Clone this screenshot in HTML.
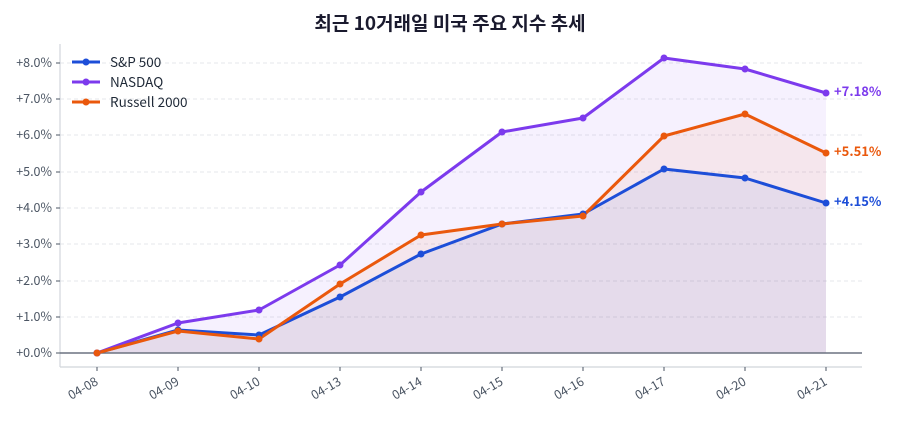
<!DOCTYPE html>
<html><head><meta charset="utf-8"><style>
body{margin:0;background:#fff}
svg text{font-family:"Noto Sans CJK KR","Liberation Sans",sans-serif}
</style></head><body>
<svg width="900" height="420" viewBox="0 0 900 420" xmlns="http://www.w3.org/2000/svg">
<text x="450" y="30" text-anchor="middle" font-size="19" font-weight="bold" fill="#1a1a2e">최근 10거래일 미국 주요 지수 추세</text>
<g stroke="#e5e7eb" stroke-dasharray="4,3" stroke-width="1">
<line x1="60" x2="862" y1="317" y2="317"/><line x1="60" x2="862" y1="281" y2="281"/>
<line x1="60" x2="862" y1="244" y2="244"/><line x1="60" x2="862" y1="208" y2="208"/>
<line x1="60" x2="862" y1="172" y2="172"/><line x1="60" x2="862" y1="135" y2="135"/>
<line x1="60" x2="862" y1="99" y2="99"/><line x1="60" x2="862" y1="63" y2="63"/>
</g>
<g stroke="#d1d5db" stroke-width="1.2" fill="none">
<line x1="60" y1="44" x2="60" y2="367"/><line x1="60" y1="367" x2="862" y2="367"/>
</g>
<g font-size="12.5" fill="#4b5563" text-anchor="end">
<text x="52" y="357">+0.0%</text><text x="52" y="321">+1.0%</text><text x="52" y="285">+2.0%</text>
<text x="52" y="248">+3.0%</text><text x="52" y="212">+4.0%</text><text x="52" y="176">+5.0%</text>
<text x="52" y="139">+6.0%</text><text x="52" y="103">+7.0%</text><text x="52" y="67">+8.0%</text>
</g>
<g stroke="#4b5563"><line x1="56" x2="60" y1="353" y2="353"/><line x1="56" x2="60" y1="317" y2="317"/><line x1="56" x2="60" y1="281" y2="281"/><line x1="56" x2="60" y1="244" y2="244"/><line x1="56" x2="60" y1="208" y2="208"/><line x1="56" x2="60" y1="172" y2="172"/><line x1="56" x2="60" y1="135" y2="135"/><line x1="56" x2="60" y1="99" y2="99"/><line x1="56" x2="60" y1="63" y2="63"/>
<line x1="97" x2="97" y1="367" y2="371"/><line x1="178" x2="178" y1="367" y2="371"/><line x1="259" x2="259" y1="367" y2="371"/><line x1="340" x2="340" y1="367" y2="371"/><line x1="421" x2="421" y1="367" y2="371"/><line x1="502" x2="502" y1="367" y2="371"/><line x1="583" x2="583" y1="367" y2="371"/><line x1="664" x2="664" y1="367" y2="371"/><line x1="745" x2="745" y1="367" y2="371"/><line x1="826" x2="826" y1="367" y2="371"/></g>
<g font-size="12.5" fill="#4b5563" text-anchor="end">
<text transform="translate(99,384) rotate(-30)">04-08</text><text transform="translate(180,384) rotate(-30)">04-09</text>
<text transform="translate(261,384) rotate(-30)">04-10</text><text transform="translate(342,384) rotate(-30)">04-13</text>
<text transform="translate(423,384) rotate(-30)">04-14</text><text transform="translate(504,384) rotate(-30)">04-15</text>
<text transform="translate(585,384) rotate(-30)">04-16</text><text transform="translate(666,384) rotate(-30)">04-17</text>
<text transform="translate(747,384) rotate(-30)">04-20</text><text transform="translate(828,384) rotate(-30)">04-21</text>
</g>
<polygon fill="#7c3aed" fill-opacity="0.07" points="97,353 178,323 259,310 340,265 421,192 502,132 583,118 664,58 745,69 826,93 826,353"/>
<polygon fill="#ea580c" fill-opacity="0.07" points="97,353 178,331 259,339 340,284 421,235 502,224 583,216 664,136 745,114 826,153 826,353"/>
<polygon fill="#1d4ed8" fill-opacity="0.07" points="97,353 178,330 259,335 340,297 421,254 502,224 583,214 664,169 745,178 826,203 826,353"/>
<line x1="60" x2="862" y1="353" y2="353" stroke="#6b7280" stroke-width="1.5"/>
<g fill="none" stroke-width="3" stroke-linejoin="round">
<polyline stroke="#1d4ed8" points="97,353 178,330 259,335 340,297 421,254 502,224 583,214 664,169 745,178 826,203"/>
<polyline stroke="#7c3aed" points="97,353 178,323 259,310 340,265 421,192 502,132 583,118 664,58 745,69 826,93"/>
<polyline stroke="#ea580c" points="97,353 178,331 259,339 340,284 421,235 502,224 583,216 664,136 745,114 826,153"/>
</g>
<g fill="#1d4ed8"><circle cx="97" cy="353" r="3.5"/><circle cx="178" cy="330" r="3.5"/><circle cx="259" cy="335" r="3.5"/><circle cx="340" cy="297" r="3.5"/><circle cx="421" cy="254" r="3.5"/><circle cx="502" cy="224" r="3.5"/><circle cx="583" cy="214" r="3.5"/><circle cx="664" cy="169" r="3.5"/><circle cx="745" cy="178" r="3.5"/><circle cx="826" cy="203" r="3.5"/></g>
<g fill="#7c3aed"><circle cx="97" cy="353" r="3.5"/><circle cx="178" cy="323" r="3.5"/><circle cx="259" cy="310" r="3.5"/><circle cx="340" cy="265" r="3.5"/><circle cx="421" cy="192" r="3.5"/><circle cx="502" cy="132" r="3.5"/><circle cx="583" cy="118" r="3.5"/><circle cx="664" cy="58" r="3.5"/><circle cx="745" cy="69" r="3.5"/><circle cx="826" cy="93" r="3.5"/></g>
<g fill="#ea580c"><circle cx="97" cy="353" r="3.5"/><circle cx="178" cy="331" r="3.5"/><circle cx="259" cy="339" r="3.5"/><circle cx="340" cy="284" r="3.5"/><circle cx="421" cy="235" r="3.5"/><circle cx="502" cy="224" r="3.5"/><circle cx="583" cy="216" r="3.5"/><circle cx="664" cy="136" r="3.5"/><circle cx="745" cy="114" r="3.5"/><circle cx="826" cy="153" r="3.5"/></g>
<g font-size="13" font-weight="bold">
<text x="834" y="96" fill="#7c3aed">+7.18%</text>
<text x="834" y="156" fill="#ea580c">+5.51%</text>
<text x="834" y="206" fill="#1d4ed8">+4.15%</text>
</g>
<g stroke-width="3">
<line x1="72" x2="100" y1="62" y2="62" stroke="#1d4ed8"/><circle cx="86" cy="62" r="3.5" fill="#1d4ed8"/>
<line x1="72" x2="100" y1="82" y2="82" stroke="#7c3aed"/><circle cx="86" cy="82" r="3.5" fill="#7c3aed"/>
<line x1="72" x2="100" y1="102" y2="102" stroke="#ea580c"/><circle cx="86" cy="102" r="3.5" fill="#ea580c"/>
</g>
<g font-size="13.5" fill="#1f2937">
<text x="110" y="67">S&amp;P 500</text><text x="110" y="87">NASDAQ</text><text x="110" y="107">Russell 2000</text>
</g>
</svg>
</body></html>
